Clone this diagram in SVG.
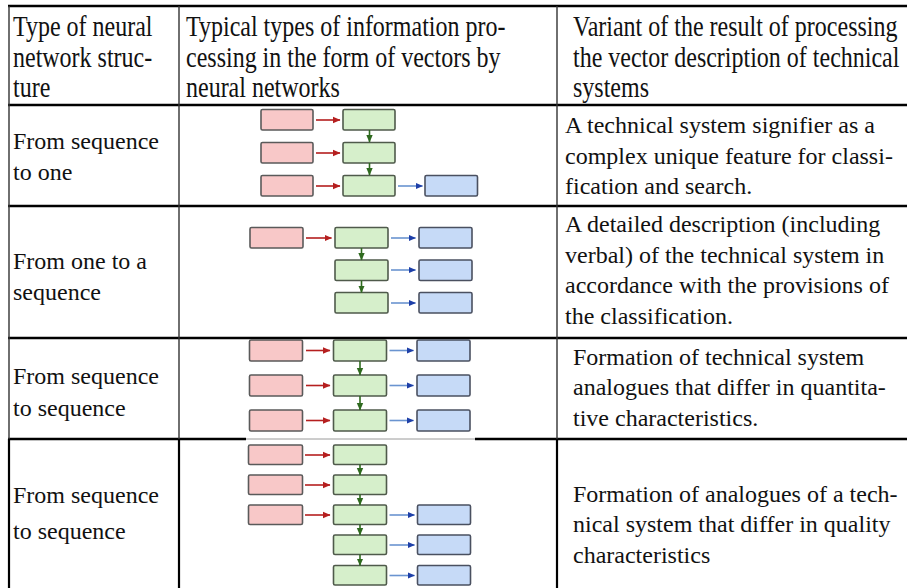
<svg xmlns="http://www.w3.org/2000/svg" width="907" height="588" viewBox="0 0 907 588" font-family="'Liberation Serif', 'Times New Roman', Tinos, 'DejaVu Serif', serif">
  <style>
    text { font-family: "Liberation Serif", "Times New Roman", Tinos, "DejaVu Serif", serif; font-size: 24px; fill: #111; }
    .hl { stroke: #000; stroke-width: 2.6; }
    .vl { stroke: #333; stroke-width: 1.4; }
    .vk { stroke: #000; stroke-width: 2.2; }
    .in { fill: #f8c8c8; stroke: #5a5a5a; stroke-width: 1.6; }
    .hd { fill: #d6efcb; stroke: #4f5a4b; stroke-width: 1.6; }
    .out { fill: #c6daf7; stroke: #4a5060; stroke-width: 1.6; }
    .ar { stroke: #b51f1f; stroke-width: 1.6; fill: none; }
    .ag { stroke: #2f6a1f; stroke-width: 1.6; fill: none; }
    .ab { stroke: #6a94d0; stroke-width: 1.6; fill: none; }
  </style>
  <defs>
    <marker id="mr" markerWidth="8" markerHeight="8" refX="7" refY="4" orient="auto" markerUnits="userSpaceOnUse">
      <path d="M0,0.8 L7.5,4 L0,7.2 Z" fill="#b51f1f"/>
    </marker>
    <marker id="mg" markerWidth="8" markerHeight="8" refX="7" refY="4" orient="auto" markerUnits="userSpaceOnUse">
      <path d="M0,0.8 L7.5,4 L0,7.2 Z" fill="#2f6a1f"/>
    </marker>
    <marker id="mb" markerWidth="8" markerHeight="8" refX="7" refY="4" orient="auto" markerUnits="userSpaceOnUse">
      <path d="M0,0.8 L7.5,4 L0,7.2 Z" fill="#1e3fa8"/>
    </marker>
  </defs>

  <rect width="907" height="588" fill="#fff"/>

  <!-- table grid -->
  <g id="grid">
    <line class="hl" x1="8" y1="6" x2="907" y2="6"/>
    <line class="hl" x1="8" y1="105" x2="907" y2="105"/>
    <line class="hl" x1="8" y1="206" x2="907" y2="206"/>
    <line class="hl" x1="8" y1="338" x2="907" y2="338"/>
    <line class="hl" x1="8" y1="439" x2="246" y2="439"/>
    <line x1="246" y1="439" x2="475" y2="439" stroke="#9a9a9a" stroke-width="1"/>
    <line class="hl" x1="475" y1="439" x2="907" y2="439"/>
    <line class="vl" x1="9" y1="6" x2="9" y2="439"/>
    <line class="vl" x1="179" y1="6" x2="179" y2="439"/>
    <line class="vl" x1="557" y1="6" x2="557" y2="439"/>
    <line class="vk" x1="9" y1="439" x2="9" y2="588"/>
    <line class="vk" x1="179" y1="439" x2="179" y2="588"/>
    <line class="vk" x1="557" y1="439" x2="557" y2="588"/>
  </g>

  <!-- header row (type set slightly tall) -->
  <g id="header" transform="scale(1,1.2)">
    <text x="13" y="30">Type of neural</text>
    <text x="13" y="55.8">network struc-</text>
    <text x="13" y="80.8">ture</text>
    <text x="186" y="30">Typical types of information pro-</text>
    <text x="186" y="55.8">cessing in the form of vectors by</text>
    <text x="186" y="80.8">neural networks</text>
    <text x="573" y="30">Variant of the result of processing</text>
    <text x="573" y="55.8">the vector description of technical</text>
    <text x="573" y="80.8">systems</text>
  </g>

  <!-- row 1: sequence to one -->
  <g id="row1-label">
    <text x="13" y="149">From sequence</text>
    <text x="13" y="180">to one</text>
  </g>
  <g id="row1-result">
    <text x="565" y="133">A technical system signifier as a</text>
    <text x="565" y="164">complex unique feature for classi-</text>
    <text x="565" y="194">fication and search.</text>
  </g>
  <g id="row1-net">
    <rect class="in" x="261" y="109.5" width="52" height="20.5" rx="1.5"/>
    <rect class="in" x="261" y="142.5" width="52" height="20.5" rx="1.5"/>
    <rect class="in" x="261" y="175.5" width="52" height="20.5" rx="1.5"/>
    <rect class="hd" x="343" y="109.5" width="52" height="20.5" rx="1.5"/>
    <rect class="hd" x="343" y="142.5" width="52" height="20.5" rx="1.5"/>
    <rect class="hd" x="343" y="175.5" width="52" height="20.5" rx="1.5"/>
    <rect class="out" x="425" y="175.5" width="52.5" height="20.5" rx="1.5"/>
  </g>

  <!-- row 2: one to sequence -->
  <g id="row2-label">
    <text x="13" y="269">From one to a</text>
    <text x="13" y="300">sequence</text>
  </g>
  <g id="row2-result">
    <text x="565" y="232">A detailed description (including</text>
    <text x="565" y="263">verbal) of the technical system in</text>
    <text x="565" y="293">accordance with the provisions of</text>
    <text x="565" y="324">the classification.</text>
  </g>
  <g id="row2-net">
    <rect class="in" x="250" y="227.5" width="53" height="20.5" rx="1.5"/>
    <rect class="hd" x="335" y="227.5" width="53" height="20.5" rx="1.5"/>
    <rect class="hd" x="335" y="260" width="53" height="20.5" rx="1.5"/>
    <rect class="hd" x="335" y="292.5" width="53" height="20.5" rx="1.5"/>
    <rect class="out" x="419" y="227.5" width="53" height="20.5" rx="1.5"/>
    <rect class="out" x="419" y="260" width="53" height="20.5" rx="1.5"/>
    <rect class="out" x="419" y="292.5" width="53" height="20.5" rx="1.5"/>
  </g>

  <!-- row 3: sequence to sequence (aligned) -->
  <g id="row3-label">
    <text x="13" y="384">From sequence</text>
    <text x="13" y="416">to sequence</text>
  </g>
  <g id="row3-result">
    <text x="573" y="365">Formation of technical system</text>
    <text x="573" y="395">analogues that differ in quantita-</text>
    <text x="573" y="426">tive characteristics.</text>
  </g>
  <g id="row3-net">
    <rect class="in" x="249.5" y="340" width="53" height="21" rx="1.5"/>
    <rect class="in" x="249.5" y="375" width="53" height="21" rx="1.5"/>
    <rect class="in" x="249.5" y="410" width="53" height="21" rx="1.5"/>
    <rect class="hd" x="333.5" y="340" width="53" height="21" rx="1.5"/>
    <rect class="hd" x="333.5" y="375" width="53" height="21" rx="1.5"/>
    <rect class="hd" x="333.5" y="410" width="53" height="21" rx="1.5"/>
    <rect class="out" x="417" y="340" width="53" height="21" rx="1.5"/>
    <rect class="out" x="417" y="375" width="53" height="21" rx="1.5"/>
    <rect class="out" x="417" y="410" width="53" height="21" rx="1.5"/>
  </g>

  <!-- row 4: sequence to sequence (delayed) -->
  <g id="row4-label">
    <text x="13" y="503">From sequence</text>
    <text x="13" y="539">to sequence</text>
  </g>
  <g id="row4-result">
    <text x="573" y="502">Formation of analogues of a tech-</text>
    <text x="573" y="532">nical system that differ in quality</text>
    <text x="573" y="563">characteristics</text>
  </g>
  <g id="row4-net">
    <rect class="in" x="248.5" y="445" width="54" height="19.5" rx="1.5"/>
    <rect class="in" x="248.5" y="475" width="54" height="19.5" rx="1.5"/>
    <rect class="in" x="248.5" y="505" width="54" height="19.5" rx="1.5"/>
    <rect class="hd" x="333.5" y="445" width="53" height="19.5" rx="1.5"/>
    <rect class="hd" x="333.5" y="475" width="53" height="19.5" rx="1.5"/>
    <rect class="hd" x="333.5" y="505" width="53" height="19.5" rx="1.5"/>
    <rect class="hd" x="333.5" y="535" width="53" height="19.5" rx="1.5"/>
    <rect class="hd" x="333.5" y="565.5" width="53" height="19.5" rx="1.5"/>
    <rect class="out" x="417.5" y="505" width="53" height="19.5" rx="1.5"/>
    <rect class="out" x="417.5" y="535" width="53" height="19.5" rx="1.5"/>
    <rect class="out" x="417.5" y="565.5" width="53" height="19.5" rx="1.5"/>
  </g>

  <!-- connectors -->
  <g id="connectors">
    <!-- row 1 -->
    <line class="ar" x1="316" y1="120" x2="340" y2="120" marker-end="url(#mr)"/>
    <line class="ar" x1="316" y1="153" x2="340" y2="153" marker-end="url(#mr)"/>
    <line class="ar" x1="316" y1="186" x2="340" y2="186" marker-end="url(#mr)"/>
    <line class="ag" x1="369.5" y1="130" x2="369.5" y2="142" marker-end="url(#mg)"/>
    <line class="ag" x1="369.5" y1="163" x2="369.5" y2="175" marker-end="url(#mg)"/>
    <line class="ab" x1="398" y1="186" x2="422.5" y2="186" marker-end="url(#mb)"/>
    <!-- row 2 -->
    <line class="ar" x1="306" y1="238" x2="331.5" y2="238" marker-end="url(#mr)"/>
    <line class="ag" x1="361.5" y1="248" x2="361.5" y2="260" marker-end="url(#mg)"/>
    <line class="ag" x1="361.5" y1="280.5" x2="361.5" y2="292.5" marker-end="url(#mg)"/>
    <line class="ab" x1="391" y1="238" x2="415.5" y2="238" marker-end="url(#mb)"/>
    <line class="ab" x1="391" y1="270" x2="415.5" y2="270" marker-end="url(#mb)"/>
    <line class="ab" x1="391" y1="303" x2="415.5" y2="303" marker-end="url(#mb)"/>
    <!-- row 3 -->
    <line class="ar" x1="306" y1="350.5" x2="330" y2="350.5" marker-end="url(#mr)"/>
    <line class="ar" x1="306" y1="385.5" x2="330" y2="385.5" marker-end="url(#mr)"/>
    <line class="ar" x1="306" y1="420.5" x2="330" y2="420.5" marker-end="url(#mr)"/>
    <line class="ag" x1="360" y1="361" x2="360" y2="375" marker-end="url(#mg)"/>
    <line class="ag" x1="360" y1="396" x2="360" y2="410" marker-end="url(#mg)"/>
    <line class="ab" x1="389.5" y1="350.5" x2="413.5" y2="350.5" marker-end="url(#mb)"/>
    <line class="ab" x1="389.5" y1="385.5" x2="413.5" y2="385.5" marker-end="url(#mb)"/>
    <line class="ab" x1="389.5" y1="420.5" x2="413.5" y2="420.5" marker-end="url(#mb)"/>
    <!-- row 4 -->
    <line class="ar" x1="305" y1="455" x2="330" y2="455" marker-end="url(#mr)"/>
    <line class="ar" x1="305" y1="485" x2="330" y2="485" marker-end="url(#mr)"/>
    <line class="ar" x1="305" y1="515" x2="330" y2="515" marker-end="url(#mr)"/>
    <line class="ag" x1="360" y1="464.5" x2="360" y2="475" marker-end="url(#mg)"/>
    <line class="ag" x1="360" y1="494.5" x2="360" y2="505" marker-end="url(#mg)"/>
    <line class="ag" x1="360" y1="524.5" x2="360" y2="535" marker-end="url(#mg)"/>
    <line class="ag" x1="360" y1="554.5" x2="360" y2="565.5" marker-end="url(#mg)"/>
    <line class="ab" x1="389.5" y1="515" x2="414.5" y2="515" marker-end="url(#mb)"/>
    <line class="ab" x1="389.5" y1="545" x2="414.5" y2="545" marker-end="url(#mb)"/>
    <line class="ab" x1="389.5" y1="575.5" x2="414.5" y2="575.5" marker-end="url(#mb)"/>
  </g>
</svg>
